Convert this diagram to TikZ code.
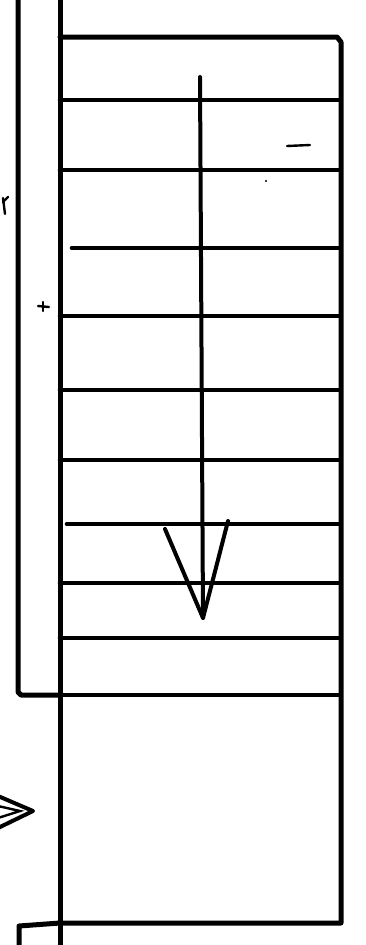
\documentclass[tikz,border=0pt]{standalone}
\begin{document}
\begin{tikzpicture}[x=1pt,y=-1pt,
  wall/.style={line width=5pt,line cap=round,line join=round},
  tread/.style={line width=4.6pt,line cap=round},
  thin/.style={line width=4pt,line cap=round,line join=round},
  speck/.style={line width=2.4pt,line cap=round}]
\useasboundingbox[fill=white] (0,0) rectangle (365,945);
% outer handrail / wall on the left
\draw[wall] (18,-5) -- (18,692) -- (21,695) -- (58,695);
% inner stringer line
\draw[wall] (60,-5) -- (60,950);
% stair outline
\draw[wall] (60,37) -- (337,37) -- (341,42) -- (341,923) -- (60,923);
% treads
\foreach \y/\xs in {100/60,170/60,248/72,316/60,390/60,460/60,524/67,583/60,638/60,695/60}
  \draw[tread] (\xs,\y) -- (339,\y);
% bottom-left return
\draw[wall] (19,950) -- (19,926) -- (60,923);
% direction arrow
\coordinate (arrS) at (200,77);
\coordinate (arrE) at (203,618);
\draw[thin] (arrS) -- (arrE);
\draw[thin] (165,529) -- (arrE) -- (228,521);
% chevron at left
\draw[thin] (-2,796) -- (33,811) -- (-2,828);
\draw[speck] (-2,806) -- (20,811) -- (-2,818);
% small stray marks
\draw[speck] (287,146) -- (310,145);
\draw[speck] (38,306) -- (49,307);
\draw[speck] (43,302) -- (43,311);
\draw[speck] (3,198) -- (5,214);
\draw[speck] (3,202) -- (8,197);
\fill (266,181) circle (1.2pt);
\end{tikzpicture}
\end{document}
